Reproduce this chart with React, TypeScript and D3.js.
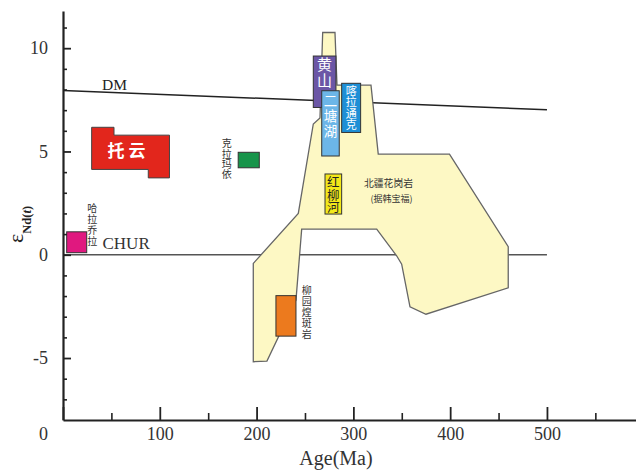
import { useEffect, useMemo, useRef } from "react";
import * as d3 from "d3";

const WIDTH = 636;
const HEIGHT = 471;
const SERIF = "'Liberation Serif', 'Times New Roman', serif";
const CJK = "'Noto Sans CJK SC', sans-serif";

// axes
const AGE_TICKS = [0, 100, 200, 300, 400, 500];
const AGE_MINOR = [50, 150, 250, 350, 450, 550];
const EPS_TICKS = [-5, 0, 5, 10];
const EPS_MINOR = [-7, -6, -4, -3, -2, -1, 1, 2, 3, 4, 6, 7, 8, 9, 11];

// reference lines
const DM_LINE: [number, number][] = [
  [0, 7.95],
  [500, 7.02],
];
const CHUR_LINE: [number, number][] = [
  [0, 0],
  [500, 0],
];

// 北疆花岗岩 field (age, eNd)
const GRANITE_FIELD: [number, number][] = [
  [268.3, 10.76], [281.0, 10.76], [283.1, 8.21], [318.2, 8.21],
  [325.7, 4.87], [399.3, 4.87], [460.0, 0.39], [460.0, -1.6],
  [375.0, -2.88], [358.5, -2.52], [349.9, -0.46], [344.7, -0.05],
  [324.1, 1.24], [246.6, 1.24], [240.7, -2.19], [210.7, -5.15],
  [196.6, -5.18], [196.6, -0.42], [243.1, 2.0], [258.6, 6.33],
  [265.5, 6.62],
];

// 托云 field
const TUOYUN_FIELD: [number, number][] = [
  [29.6, 6.17], [52.7, 6.17], [52.7, 5.79], [110, 5.79],
  [110, 3.72], [88.1, 3.72], [88.1, 4.13], [29.6, 4.13],
];

// rectangular fields
const BOX_NAMES = ["哈拉乔拉", "克拉玛依", "黄山", "二塘湖", "喀拉通克", "红柳河", "柳园煌斑岩"];
const BOX_AGE: [number, number][] = [
  [3.8, 24.5], [181, 202.8], [258.6, 282], [267.3, 285.4],
  [287.9, 307.5], [270.7, 287.9], [220, 240.7],
];
const BOX_EPS: [number, number][] = [
  [0.1, 1.11], [4.21, 4.96], [7.13, 9.62], [4.78, 7.94],
  [5.92, 8.3], [1.97, 3.91], [-3.94, -1.98],
];
const BOX_COLORS = ["#e0187f", "#17944a", "#6b56a6", "#6cb6e8", "#1e8fd6", "#f3e81a", "#ec7a1e"];

type VTextProps = {
  x: number;
  y: number; // top of the first glyph
  text: string;
  size: number;
  step: number;
  fill: string;
};

// vertical Chinese label, set top to bottom in one text element
const VText = ({ x, y, text, size, step, fill }: VTextProps) => (
  <text
    x={x}
    y={y}
    fontSize={size}
    fontFamily={CJK}
    fill={fill}
    textAnchor="start"
    letterSpacing={step - size}
    style={{ writingMode: "vertical-rl" }}
  >
    {text}
  </text>
);

export default function App() {
  const axesRef = useRef(null);

  const xScale = useMemo(() => d3.scaleLinear().domain([0, 592]).range([63, 636]), []);
  const yScale = useMemo(() => d3.scaleLinear().domain([-8, 11.8]).range([420, 11]), []);

  const line = d3
    .line<[number, number]>()
    .x((d) => xScale(d[0]))
    .y((d) => yScale(d[1]));
  const area = (pts: [number, number][]) => line(pts) + "Z";

  useEffect(() => {
    const svgElement = d3.select(axesRef.current);
    svgElement.selectAll("*").remove();
    const y0 = yScale(-8);
    const x0 = xScale(0);

    // x axis
    const xMinor = svgElement
      .append("g")
      .attr("transform", "translate(0," + y0 + ")")
      .call(d3.axisBottom(xScale).tickValues(AGE_MINOR).tickSize(-7).tickFormat(() => ""));
    xMinor.select(".domain").remove();
    xMinor.selectAll("line").attr("stroke", "#222").attr("stroke-width", 1.6);

    const xMajor = svgElement
      .append("g")
      .attr("transform", "translate(0," + y0 + ")")
      .call(
        d3
          .axisBottom(xScale)
          .tickValues(AGE_TICKS)
          .tickSize(-13)
          .tickSizeOuter(0)
          .tickPadding(7)
          .tickFormat((d) => (d === 0 ? "" : String(d)))
      );
    xMajor.select(".domain").attr("stroke", "#222").attr("stroke-width", 2.2);
    xMajor.selectAll("line").attr("stroke", "#222").attr("stroke-width", 1.8);
    xMajor
      .selectAll("text")
      .attr("font-family", SERIF)
      .attr("font-size", 18)
      .attr("fill", "#333");

    // y axis
    const yMinor = svgElement
      .append("g")
      .attr("transform", "translate(" + x0 + ",0)")
      .call(d3.axisLeft(yScale).tickValues(EPS_MINOR).tickSize(-4).tickFormat(() => ""));
    yMinor.select(".domain").remove();
    yMinor.selectAll("line").attr("stroke", "#222").attr("stroke-width", 1.6);

    const yMajor = svgElement
      .append("g")
      .attr("transform", "translate(" + x0 + ",0)")
      .call(
        d3
          .axisLeft(yScale)
          .tickValues(EPS_TICKS)
          .tickSize(-8)
          .tickSizeOuter(0)
          .tickPadding(15)
          .tickFormat((d) => String(d))
      );
    yMajor.select(".domain").attr("stroke", "#222").attr("stroke-width", 2.2);
    yMajor.selectAll("line").attr("stroke", "#222").attr("stroke-width", 1.8);
    yMajor
      .selectAll("text")
      .attr("font-family", SERIF)
      .attr("font-size", 18)
      .attr("fill", "#333");

    // the zero of the age axis sits under the eNd labels
    svgElement
      .append("text")
      .attr("x", 48)
      .attr("y", 440)
      .attr("text-anchor", "end")
      .attr("font-family", SERIF)
      .attr("font-size", 18)
      .attr("fill", "#333")
      .text("0");
  }, [xScale, yScale]);

  const boxes = BOX_NAMES.map((name, i) => {
    const [a0, a1] = BOX_AGE[i];
    const [e0, e1] = BOX_EPS[i];
    return (
      <rect
        key={name}
        x={xScale(a0)}
        y={yScale(e1)}
        width={xScale(a1) - xScale(a0)}
        height={yScale(e0) - yScale(e1)}
        fill={BOX_COLORS[i]}
        stroke="#333"
        strokeWidth={1}
      />
    );
  });

  const boxCx = (i: number) => (xScale(BOX_AGE[i][0]) + xScale(BOX_AGE[i][1])) / 2;
  const boxTop = (i: number) => yScale(BOX_EPS[i][1]);

  return (
    <div>
      <svg
        width={WIDTH}
        height={HEIGHT}
        style={{ position: "absolute", left: 0, top: 0, background: "#fff" }}
      >
        {/* reference lines sit under the fields */}
        <path d={line(DM_LINE) ?? ""} fill="none" stroke="#222" strokeWidth={1.5} />
        <path d={line(CHUR_LINE) ?? ""} fill="none" stroke="#555" strokeWidth={1.5} />
        <text x={102} y={90} fontFamily={SERIF} fontSize={15.5} fill="#222">
          DM
        </text>
        <text x={102.5} y={248.5} fontFamily={SERIF} fontSize={17} fill="#333">
          CHUR
        </text>

        <path d={area(GRANITE_FIELD)} fill="#fdf8c4" stroke="#666" strokeWidth={1.3} />
        <path d={area(TUOYUN_FIELD)} fill="#e2261c" stroke="#444" strokeWidth={1} />
        {boxes}

        {/* labels */}
        <text
          x={128.5}
          y={149.5}
          fontFamily={CJK}
          fontSize={17}
          fontWeight="bold"
          letterSpacing={4}
          fill="#fff"
          textAnchor="middle"
          dominantBaseline="central"
        >
          托云
        </text>
        <VText x={xScale(BOX_AGE[0][1]) + 5.5} y={203.5} text={BOX_NAMES[0]} size={10} step={10.85} fill="#333" />
        <VText x={xScale(BOX_AGE[1][0]) - 11.5} y={138.5} text={BOX_NAMES[1]} size={10} step={10.4} fill="#333" />
        <VText x={boxCx(2)} y={boxTop(2) + 1} text={BOX_NAMES[2]} size={15} step={16} fill="#fff" />
        <VText x={boxCx(3)} y={boxTop(3) + 3} text={BOX_NAMES[3]} size={13.5} step={15} fill="#fff" />
        <VText x={boxCx(4)} y={boxTop(4) + 2} text={BOX_NAMES[4]} size={11} step={11.3} fill="#fff" />
        <VText x={boxCx(5)} y={boxTop(5) + 2.5} text={BOX_NAMES[5]} size={12.5} step={12.1} fill="#222" />
        <VText x={xScale(BOX_AGE[6][1]) + 10.7} y={285.5} text={BOX_NAMES[6]} size={10} step={11} fill="#333" />
        <text x={388.5} y={183} fontFamily={CJK} fontSize={9.8} fill="#333" textAnchor="middle" dominantBaseline="central">
          北疆花岗岩
        </text>
        <text x={391.5} y={198} fontFamily={CJK} fontSize={9} fill="#333" textAnchor="middle" dominantBaseline="central">
          (据韩宝福)
        </text>

        <g ref={axesRef} />

        {/* axis titles */}
        <text x={336} y={465} fontFamily={SERIF} fontSize={20} fill="#333" textAnchor="middle">
          Age(Ma)
        </text>
        <text transform="translate(23,243) rotate(-90)" fontFamily={SERIF} fill="#222">
          <tspan fontSize={22}>ε</tspan>
          <tspan fontSize={12.5} fontWeight="bold" dy={8}>
            Nd(
          </tspan>
          <tspan fontSize={12.5} fontWeight="bold" fontStyle="italic">
            t
          </tspan>
          <tspan fontSize={12.5} fontWeight="bold">
            )
          </tspan>
        </text>
      </svg>
    </div>
  );
}
